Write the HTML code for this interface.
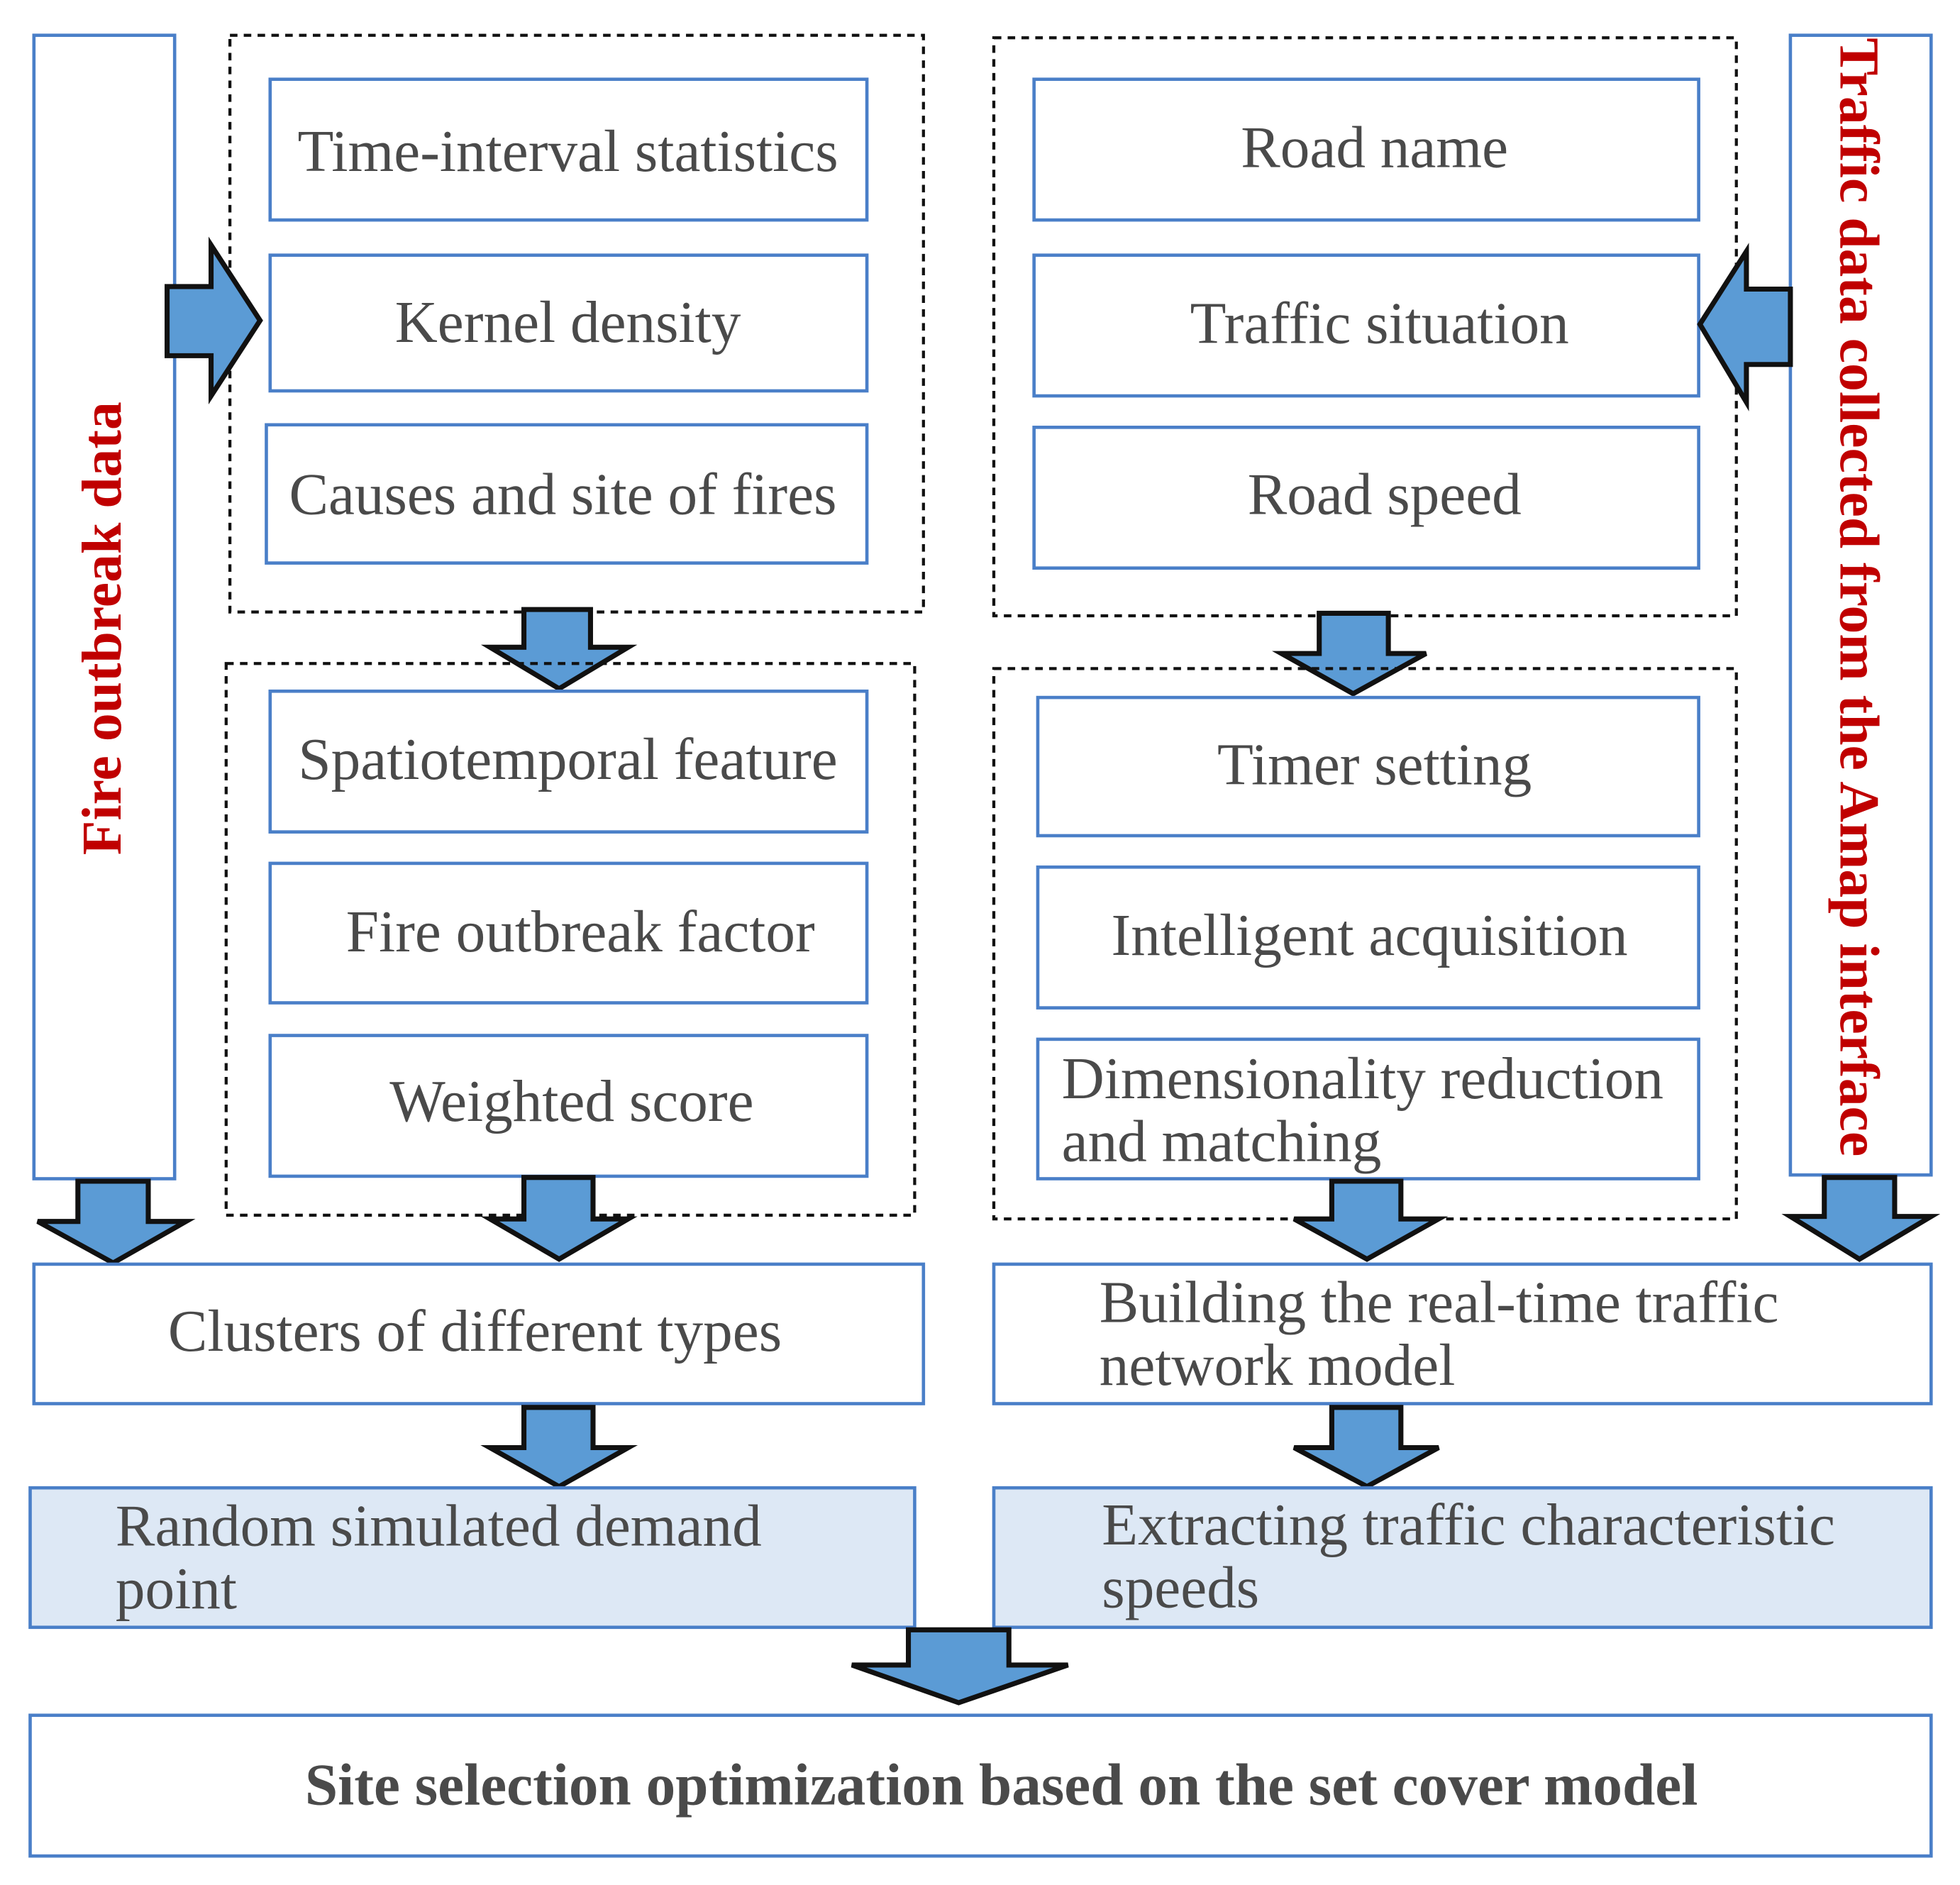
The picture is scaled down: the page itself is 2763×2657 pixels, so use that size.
<!DOCTYPE html>
<html><head><meta charset="utf-8"><style>
html,body{margin:0;padding:0;background:#fff;}
svg{display:block;}
text{font-family:"Liberation Serif",serif;fill:#4a4a4a;font-size:47px;}
.b{fill:#fff;stroke:#4a7fc8;stroke-width:2.6;}
.lb{fill:#dde8f5;stroke:#4a7fc8;stroke-width:2.6;}
.d{fill:none;stroke:#111;stroke-width:2.4;stroke-dasharray:6,5;}
.a{fill:#5b9bd5;stroke:#111;stroke-width:4;stroke-linejoin:miter;}
.r{fill:#c00000;font-weight:bold;font-size:45px;}
</style></head><body>
<svg width="2763" height="2657" viewBox="0 0 1560 1500" xmlns="http://www.w3.org/2000/svg">
<rect class="b" x="27" y="28" width="112" height="910"/>
<text class="r" transform="translate(96,500) rotate(-90)" text-anchor="middle">Fire outbreak data</text>
<rect class="d" x="183" y="28" width="552" height="459"/>
<rect class="b" x="215" y="63" width="475" height="112"/>
<text x="452" y="136" text-anchor="middle">Time-interval statistics</text>
<rect class="b" x="215" y="203" width="475" height="108"/>
<text x="452" y="272" text-anchor="middle">Kernel density</text>
<rect class="b" x="212" y="338" width="478" height="110"/>
<text x="448" y="409" text-anchor="middle">Causes and site of fires</text>
<polygon class="a" points="133,228 168,228 168,195 207,255 168,315 168,283 133,283"/>
<polygon class="a" points="417,485 470,485 470,515 500,515 445,548 390,515 417,515"/>
<rect class="d" x="180" y="528" width="548" height="439"/>
<rect class="b" x="215" y="550" width="475" height="112"/>
<text x="452" y="620" text-anchor="middle">Spatiotemporal feature</text>
<rect class="b" x="215" y="687" width="475" height="111"/>
<text x="462" y="757" text-anchor="middle">Fire outbreak factor</text>
<rect class="b" x="215" y="824" width="475" height="112"/>
<text x="455" y="892" text-anchor="middle">Weighted score</text>
<polygon class="a" points="417,937 472,937 472,970 500,970 445,1002 390,970 417,970"/>
<polygon class="a" points="62,940 118,940 118,972 148,972 90,1005 30,972 62,972"/>
<rect class="b" x="27" y="1006" width="708" height="111"/>
<text x="378" y="1075" text-anchor="middle">Clusters of different types</text>
<polygon class="a" points="417,1120 472,1120 472,1152 500,1152 445,1183 390,1152 417,1152"/>
<rect class="lb" x="24" y="1184" width="704" height="111"/>
<text x="92" y="1230">Random simulated demand</text>
<text x="92" y="1280">point</text>
<rect class="d" x="791" y="30" width="591" height="460"/>
<rect class="b" x="823" y="63" width="529" height="112"/>
<text x="1094" y="133" text-anchor="middle">Road name</text>
<rect class="b" x="823" y="203" width="529" height="112"/>
<text x="1098" y="273" text-anchor="middle">Traffic situation</text>
<rect class="b" x="823" y="340" width="529" height="112"/>
<text x="1102" y="409" text-anchor="middle">Road speed</text>
<rect class="b" x="1425" y="28" width="112" height="907"/>
<text class="r" transform="translate(1465,30) rotate(90)">Traffic data collected from the Amap interface</text>
<polygon class="a" points="1425,230 1390,230 1390,200 1353,258 1390,320 1390,290 1425,290"/>
<polygon class="a" points="1050,488 1105,488 1105,520 1135,520 1077,552 1020,520 1050,520"/>
<rect class="d" x="791" y="532" width="591" height="438"/>
<rect class="b" x="826" y="555" width="526" height="110"/>
<text x="1094" y="624" text-anchor="middle">Timer setting</text>
<rect class="b" x="826" y="690" width="526" height="112"/>
<text x="1090" y="760" text-anchor="middle">Intelligent  acquisition</text>
<rect class="b" x="826" y="827" width="526" height="111"/>
<text x="845" y="874">Dimensionality reduction</text>
<text x="845" y="924">and matching</text>
<polygon class="a" points="1060,940 1115,940 1115,970 1145,970 1088,1002 1030,970 1060,970"/>
<polygon class="a" points="1452,937 1508,937 1508,968 1537,968 1480,1002 1425,968 1452,968"/>
<rect class="b" x="791" y="1006" width="746" height="111"/>
<text x="875" y="1052">Building the real-time traffic</text>
<text x="875" y="1102">network model</text>
<polygon class="a" points="1060,1120 1115,1120 1115,1152 1145,1152 1088,1183 1030,1152 1060,1152"/>
<rect class="lb" x="791" y="1184" width="746" height="111"/>
<text x="877" y="1229">Extracting traffic characteristic</text>
<text x="877" y="1279">speeds</text>
<polygon class="a" points="723,1297 803,1297 803,1325 850,1325 763,1355 678,1325 723,1325"/>
<rect class="b" x="24" y="1365" width="1513" height="112"/>
<text x="797" y="1436" text-anchor="middle" style="font-weight:bold;font-size:47px">Site selection optimization based on the set cover model</text>
</svg>
</body></html>
